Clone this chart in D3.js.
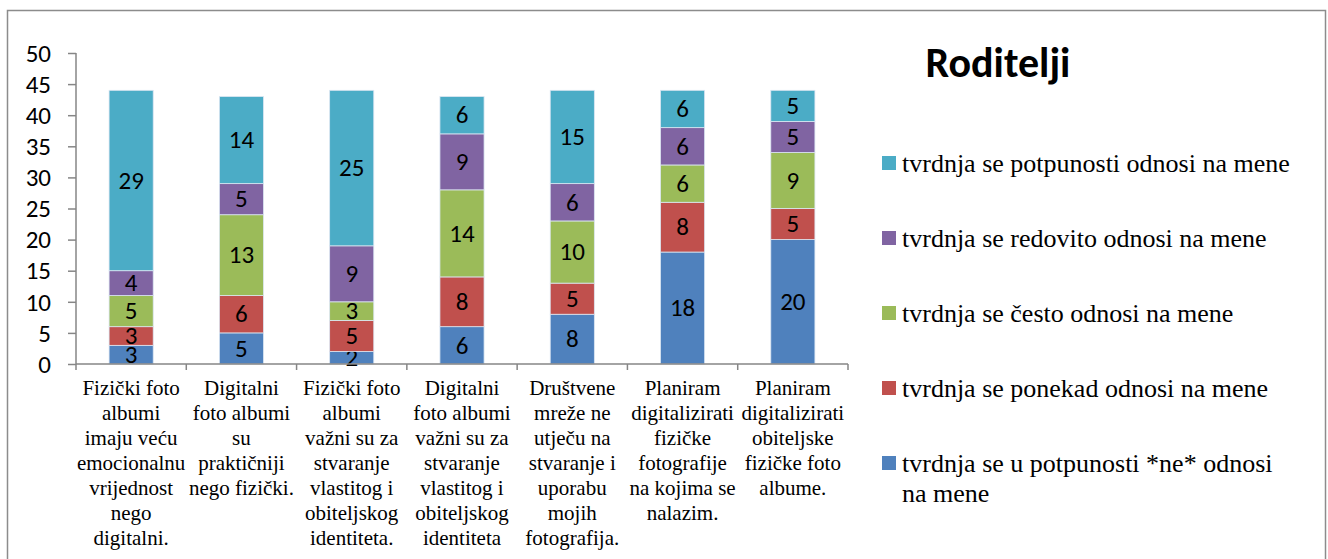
<!DOCTYPE html>
<html>
<head>
<meta charset="utf-8">
<script src="https://cdn.jsdelivr.net/npm/d3@7"></script>
</head>
<body style="margin:0">
<svg width="1328" height="559"></svg>
<script>
// categories (x axis), each label split into lines as in the picture
const categories = [
    ["Fizički foto", "albumi", "imaju veću", "emocionalnu", "vrijednost", "nego", "digitalni."],
    ["Digitalni", "foto albumi", "su", "praktičniji", "nego fizički."],
    ["Fizički foto", "albumi", "važni su za", "stvaranje", "vlastitog i", "obiteljskog", "identiteta."],
    ["Digitalni", "foto albumi", "važni su za", "stvaranje", "vlastitog i", "obiteljskog", "identiteta"],
    ["Društvene", "mreže ne", "utječu na", "stvaranje i", "uporabu", "mojih", "fotografija."],
    ["Planiram", "digitalizirati", "fizičke", "fotografije", "na kojima se", "nalazim."],
    ["Planiram", "digitalizirati", "obiteljske", "fizičke foto", "albume."]
];

// series, bottom to top
const seriesNames = [
    "tvrdnja se u potpunosti *ne* odnosi na mene",
    "tvrdnja se ponekad odnosi na mene",
    "tvrdnja se često odnosi na mene",
    "tvrdnja se redovito odnosi na mene",
    "tvrdnja se potpunosti odnosi na mene"
];
const seriesColors = ["#4F81BD", "#C0504D", "#9BBB59", "#8064A2", "#4BACC6"];

const uPotpunostiNe = [3, 5, 2, 6, 8, 18, 20];
const ponekad       = [3, 6, 5, 8, 5, 8, 5];
const cesto         = [5, 13, 3, 14, 10, 6, 9];
const redovito      = [4, 5, 9, 9, 6, 6, 5];
const potpunosti    = [29, 14, 25, 6, 15, 6, 5];

const yTicks = [0, 5, 10, 15, 20, 25, 30, 35, 40, 45, 50];
const title = "Roditelji";

// legend is listed top to bottom (reverse of stacking)
const legendLines = [
    ["tvrdnja se potpunosti odnosi na mene"],
    ["tvrdnja se redovito odnosi na mene"],
    ["tvrdnja se često odnosi na mene"],
    ["tvrdnja se ponekad odnosi na mene"],
    ["tvrdnja se u potpunosti *ne* odnosi", "na mene"]
];

const SANS = "Carlito";
const SERIF = "serif";

const allSeries = [uPotpunostiNe, ponekad, cesto, redovito, potpunosti];
const table = categories.map((c, i) => {
    const row = { idx: i };
    seriesNames.forEach((s, k) => row[s] = allSeries[k][i]);
    return row;
});

const svg = d3.select("svg");

const x = d3.scaleBand()
    .domain(d3.range(categories.length))
    .range([76, 848])
    .paddingInner(0.6)
    .paddingOuter(0.3);

const y = d3.scaleLinear().domain([0, 50]).range([364, 53]);

// category labels: one text per line
const catLines = categories.flatMap((lines, i) =>
    lines.map((t, j) => ({ i, j, t })));
svg.append("g").selectAll("text")
    .data(catLines)
    .join("text")
    .attr("x", d => x(d.i) + x.bandwidth() / 2)
    .attr("y", d => 395 + d.j * 25)
    .attr("text-anchor", "middle")
    .attr("font-family", SERIF)
    .attr("font-size", 21)
    .text(d => d.t);

// legend
const legend = svg.append("g").selectAll("g")
    .data(legendLines)
    .join("g")
    .attr("transform", (d, i) => `translate(882,${163 + i * 75})`);
legend.append("rect")
    .attr("x", 0).attr("y", -7)
    .attr("width", 14).attr("height", 14)
    .attr("fill", (d, i) => seriesColors[seriesColors.length - 1 - i]);
legend.selectAll(".lt")
    .data(d => d)
    .join("text")
    .attr("class", "lt")
    .attr("x", 20)
    .attr("y", (d, j) => 9 + j * 30)
    .attr("font-family", SERIF)
    .attr("font-size", 26)
    .text(d => d);

// chart border
svg.append("rect")
    .attr("x", 7.5).attr("y", 10.5)
    .attr("width", 1318).attr("height", 560)
    .attr("fill", "none")
    .attr("stroke", "#8c8c8c")
    .attr("stroke-width", 1.5);

const stacked = d3.stack().keys(seriesNames)(table);

const layers = svg.append("g").selectAll(".layer")
    .data(stacked)
    .join("g")
    .attr("class", "layer")
    .attr("fill", (d, i) => seriesColors[i]);

layers.selectAll("rect")
    .data(d => d)
    .join("rect")
    .attr("x", d => x(d.data.idx))
    .attr("y", d => y(d[1]))
    .attr("width", x.bandwidth())
    .attr("height", d => y(d[0]) - y(d[1]))
    .attr("stroke", "#dbe6f2")
    .attr("stroke-width", 0.8);

// data labels
layers.selectAll("text")
    .data(d => d)
    .join("text")
    .attr("x", d => x(d.data.idx) + x.bandwidth() / 2)
    .attr("y", d => (y(d[0]) + y(d[1])) / 2)
    .attr("dy", "0.33em")
    .attr("text-anchor", "middle")
    .attr("font-family", SANS)
    .attr("font-size", 25)
    .attr("fill", "#000")
    .text(d => d[1] - d[0]);

// y axis
const yAxis = svg.append("g")
    .attr("transform", "translate(76,0)")
    .call(d3.axisLeft(y).tickValues(yTicks).tickSize(8).tickPadding(17));
yAxis.attr("font-family", null).attr("font-size", null);
yAxis.selectAll("text")
    .attr("font-family", SANS).attr("font-size", 25)
    .attr("fill", "#000").attr("dy", "0.33em");
yAxis.selectAll("line, path").attr("stroke", "#868686").attr("stroke-width", 1.5);
yAxis.select(".domain").attr("d", "M-0,53V364");

// x axis baseline and ticks between categories
const xAxisG = svg.append("g");
xAxisG.append("line")
    .attr("x1", 76).attr("x2", 848)
    .attr("y1", y(0)).attr("y2", y(0))
    .attr("stroke", "#868686").attr("stroke-width", 1.5);
const bounds = d3.range(categories.length + 1).map(i => 76 + i * x.step());
xAxisG.selectAll(".xt")
    .data(bounds)
    .join("line")
    .attr("class", "xt")
    .attr("x1", d => d).attr("x2", d => d)
    .attr("y1", y(0)).attr("y2", y(0) + 6)
    .attr("stroke", "#868686").attr("stroke-width", 1.5);

// title
svg.append("text")
    .attr("x", 998).attr("y", 77)
    .attr("text-anchor", "middle")
    .attr("font-family", SANS)
    .attr("font-weight", "bold")
    .attr("font-size", 42)
    .attr("fill", "#000")
    .text(title);
</script>
</body>
</html>
